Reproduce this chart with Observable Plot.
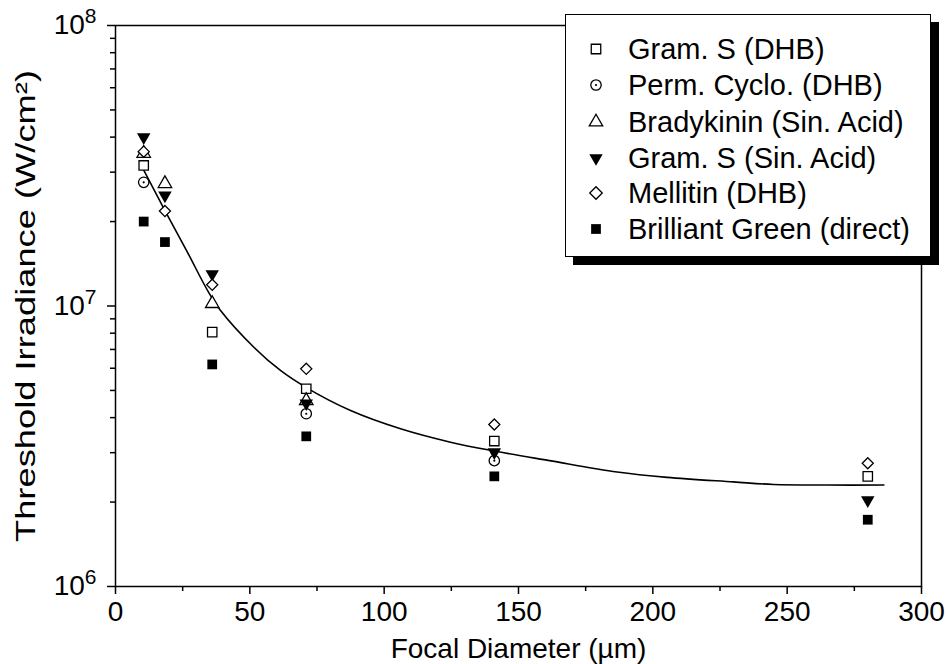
<!DOCTYPE html>
<html>
<head>
<meta charset="utf-8">
<script src="https://cdn.jsdelivr.net/npm/d3@7"></script>
<script src="https://cdn.jsdelivr.net/npm/@observablehq/plot@0.6"></script>
<style>
  html, body { margin: 0; padding: 0; background: #fff; }
  #wrap { position: relative; width: 948px; height: 664px; font-family: "Liberation Sans", Arial, sans-serif; }
  #legend { position: absolute; left: 565px; top: 14px; width: 366px; height: 243px;
    border: 1.5px solid #000; background: #fff; box-shadow: 8px 8px 0 #000; box-sizing: border-box; }
  .row { position: absolute; left: 0; height: 36px; display: flex; align-items: center; font-size: 29px; color: #000; white-space: nowrap; }
  .row svg { width: 26px; height: 26px; margin-left: 17px; margin-right: 19px; }
</style>
</head>
<body>
<div id="wrap"><div id="legend"></div></div>
<script>
// ---- data ----
const diameters = [10.5, 18.4, 36, 71, 141, 280];
const seriesNames = ["Gram. S (DHB)", "Perm. Cyclo. (DHB)", "Bradykinin (Sin. Acid)", "Gram. S (Sin. Acid)", "Mellitin (DHB)", "Brilliant Green (direct)"];
const gramS_DHB   = [3.17e7, null,   8.07e6, 5.07e6, 3.30e6, 2.47e6];
const permCyclo   = [2.76e7, null,   null,   4.13e6, 2.81e6, null];
const bradykinin  = [3.5e7,  2.73e7, 1.02e7, 4.6e6,  null,   null];
const gramS_Sin   = [4.0e7,  2.48e7, 1.30e7, 4.5e6,  3.01e6, 2.03e6];
const mellitin    = [3.55e7, 2.18e7, 1.19e7, 5.97e6, 3.78e6, 2.75e6];
const brilliant   = [2.0e7,  1.69e7, 6.19e6, 3.43e6, 2.47e6, 1.73e6];
const fitX = [10.5, 18.4, 26.7, 34.4, 39.1, 51.5, 61.4, 70.7, 87.5, 106.1, 124.7, 141, 161.5, 186.7, 205.3, 230, 245, 265, 286];
const fitY = [3.05e7, 2.19e7, 1.56e7, 1.13e7, 9.64e6, 7.13e6, 5.89e6, 5.14e6, 4.24e6, 3.65e6, 3.27e6, 3.04e6, 2.81e6, 2.56e6, 2.45e6, 2.36e6, 2.31e6, 2.30e6, 2.30e6];
const xMajor = [0, 50, 100, 150, 200, 250, 300];
const xMinor = [25, 75, 125, 175, 225, 275];
const yMajor = [1e6, 1e7, 1e8];
const yMinor = [2e6,3e6,4e6,5e6,6e6,7e6,8e6,9e6,2e7,3e7,4e7,5e7,6e7,7e7,8e7,9e7];
const xLabel = "Focal Diameter (µm)";
const yLabel = "Threshold Irradiance (W/cm²)";

const toPts = vals => diameters.map((x, i) => ({x, y: vals[i]})).filter(d => d.y != null);
const fit = fitX.map((x, i) => ({x, y: fitY[i]}));

const sw = 1.3;
const plot = Plot.plot({
  width: 948, height: 664,
  marginLeft: 115, marginRight: 27, marginTop: 25, marginBottom: 78,
  style: {fontFamily: "'Liberation Sans', Arial, sans-serif", fontSize: "28px", color: "#000", background: "transparent"},
  x: {domain: [0, 300]},
  y: {type: "log", domain: [1e6, 1e8]},
  marks: [
    Plot.frame({stroke: "#000", strokeWidth: 1.5}),
    Plot.axisX({ticks: xMajor, tickSize: 8, tickPadding: 7, tickFormat: d => String(d), label: xLabel, labelAnchor: "center", labelOffset: 71, labelArrow: "none", strokeWidth: 1.5}),
    Plot.axisX({ticks: xMinor, tickSize: 5, tickFormat: () => "", label: null, strokeWidth: 1.5}),
    Plot.axisY({ticks: yMajor, tickSize: 8, tickPadding: 11, tickFormat: d => "10^" + Math.round(Math.log10(d)), label: yLabel, labelAnchor: "center", labelOffset: 100, labelArrow: "none", strokeWidth: 1.5}),
    Plot.axisY({ticks: yMinor, tickSize: 5, tickFormat: () => "", label: null, strokeWidth: 1.5}),
    Plot.line(fit, {x: "x", y: "y", curve: "catmull-rom", stroke: "#000", strokeWidth: 1.6}),
    Plot.dot(toPts(brilliant), {x: "x", y: "y", symbol: "square", r: 5.5, fill: "#000", stroke: "none"}),
    Plot.dot(toPts(permCyclo), {x: "x", y: "y", symbol: "circle", r: 5.2, fill: "#fff", stroke: "#000", strokeWidth: sw}),
    Plot.dot(toPts(permCyclo), {x: "x", y: "y", symbol: "circle", r: 1.1, fill: "#000", stroke: "none"}),
    Plot.dot(toPts(gramS_DHB), {x: "x", y: "y", symbol: "square", r: 5.3, fill: "#fff", stroke: "#000", strokeWidth: sw}),
    Plot.dot(toPts(bradykinin), {x: "x", y: "y", symbol: "triangle", r: 5, fill: "#fff", stroke: "#000", strokeWidth: sw}),
    Plot.dot(toPts(gramS_Sin), {x: "x", y: "y", symbol: "triangle", r: 5, rotate: 180, fill: "#000", stroke: "none"}),
    Plot.dot(toPts(mellitin), {x: "x", y: "y", symbol: "diamond2", r: 5, fill: "#fff", stroke: "#000", strokeWidth: sw})
  ]
});
document.getElementById("wrap").prepend(plot);

// superscript exponents on the y tick labels
d3.select(plot).selectAll('g[aria-label="y-axis tick label"] text').each(function() {
  const t = d3.select(this);
  const [base, exp] = t.text().split("^");
  t.text(null);
  t.append("tspan").text(base);
  t.append("tspan").attr("dy", "-11").style("font-size", "21px").text(exp);
});
// stretch the y label to the reference's length
d3.select(plot).selectAll('g[aria-label="y-axis label"] text')
  .attr("textLength", 472).attr("lengthAdjust", "spacingAndGlyphs");

// legend
const legendSyms = [
  {sym: d3.symbolSquare, size: 90, fill: "#fff", stroke: "#000"},
  {sym: d3.symbolCircle, size: 85, fill: "#fff", stroke: "#000", dot: true},
  {sym: d3.symbolTriangle, size: 78, fill: "#fff", stroke: "#000"},
  {sym: d3.symbolTriangle, size: 78, fill: "#000", stroke: "none", rot: 180},
  {sym: d3.symbolSquare, size: 78, fill: "#fff", stroke: "#000", rot: 45},
  {sym: d3.symbolSquare, size: 95, fill: "#000", stroke: "none"}
];
const legend = document.getElementById("legend");
const rowTops = [16, 52, 89, 125, 160, 196];
seriesNames.forEach((name, i) => {
  const row = document.createElement("div");
  row.className = "row";
  row.style.top = rowTops[i] + "px";
  const s = legendSyms[i];
  const svg = d3.create("svg").attr("viewBox", "-13 -13 26 26");
  svg.append("path").attr("d", d3.symbol(s.sym, s.size)())
    .attr("transform", s.rot ? `rotate(${s.rot})` : null)
    .attr("fill", s.fill).attr("stroke", s.stroke).attr("stroke-width", 1.3);
  if (s.dot) svg.append("circle").attr("r", 1.1).attr("fill", "#000");
  row.appendChild(svg.node());
  const span = document.createElement("span");
  span.textContent = name;
  row.appendChild(span);
  legend.appendChild(row);
});
</script>
</body>
</html>
